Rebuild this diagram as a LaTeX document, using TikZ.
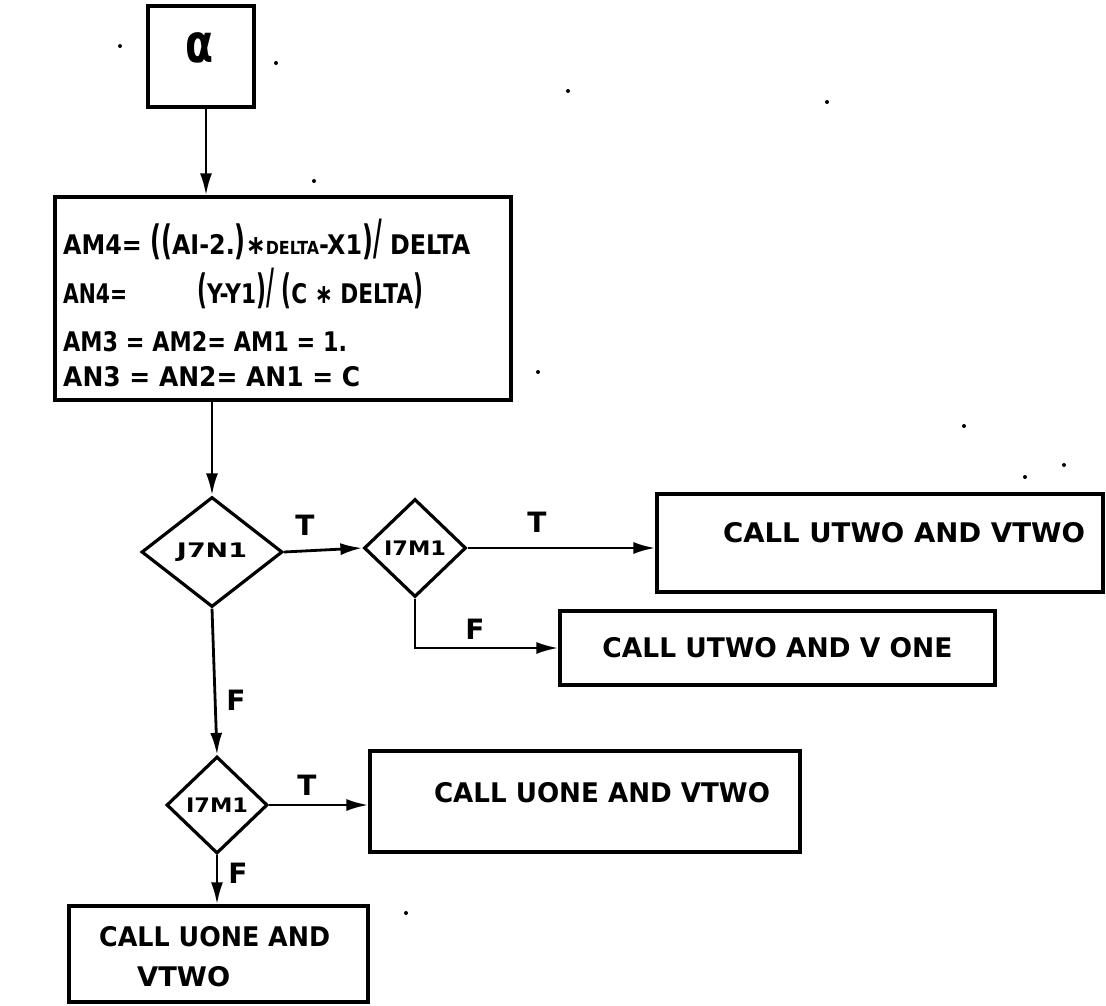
\documentclass[tikz,border=0pt]{standalone}
\usepackage{fontspec}
\setmainfont{DejaVu Sans}
\usetikzlibrary{arrows.meta,shapes.geometric}
% stretch a piece of lettering to a given width, keeping its height
\newcommand{\handw}[2]{\resizebox{#1}{\height}{#2}}
% taller parentheses and slashes for the formulas
\newcommand{\tallp}[2][1.5]{\scalebox{1}[#1]{#2}}
\begin{document}
\begin{tikzpicture}[x=1pt,y=-1pt,
  every node/.style={font=\fontsize{27}{30}\selectfont\bfseries, inner sep=0pt},
  pbox/.style={draw, rectangle, line width=3.2pt},
  test/.style={draw, diamond, line width=3.2pt, aspect=1, font=\fontsize{20}{22}\selectfont\bfseries},
  flow/.style={line width=2.8pt, -{Latex[length=22pt,width=12pt]}},
  lbl/.style={font=\fontsize{28}{30}\selectfont\bfseries},
  speck/.style={fill=black, draw=none, circle, minimum size=4pt}
]
\useasboundingbox (0,0) rectangle (1106,1006);

% entry connector
\node[pbox, minimum width=106pt, minimum height=101pt] (alpha) at (201,56.5) {};
\node (alphasym) at (199,48) {\resizebox{28pt}{30pt}{α}};

% assignment block
\node[pbox, minimum width=456pt, minimum height=203pt] (form) at (283,298.5) {};
\node[anchor=base west] (f1) at (63,254)
  {\handw{407pt}{AM4= \tallp{((}AI-2.\tallp{)}∗{\fontsize{18}{19}\selectfont\bfseries DELTA}-X1\tallp{)}\tallp[1.8]{/} DELTA}};
\node[anchor=base west] (f2a) at (63,303) {\handw{64pt}{AN4=}};
\node[anchor=base west] (f2b) at (197,303)
  {\handw{226pt}{\tallp{(}Y-Y1\tallp{)}\tallp[1.8]{/} \tallp{(}C ∗ DELTA\tallp{)}}};
\node[anchor=base west] (f3) at (63,351) {\handw{284pt}{AM3 = AM2= AM1 = 1.}};
\node[anchor=base west] (f4) at (63,386) {\handw{297pt}{AN3 = AN2= AN1 = C}};

% decisions
\node[test, minimum width=141pt, minimum height=110pt] (j1) at (212,552) {\handw{70pt}{J7N1}};
\node[test, minimum width=102pt, minimum height=98pt] (i1) at (415,548) {\handw{62pt}{I7M1}};
\node[test, minimum width=101pt, minimum height=97pt] (i2) at (217,805) {\handw{62pt}{I7M1}};

% calls
\node[pbox, minimum width=446pt, minimum height=98pt] (box1) at (880,543) {};
\node (box1t) at (904,533) {\handw{362pt}{CALL UTWO AND VTWO}};
\node[pbox, minimum width=435pt, minimum height=74pt] (box2) at (777.5,648) {\handw{350pt}{CALL UTWO AND V ONE}};
\node[pbox, minimum width=430pt, minimum height=101pt] (box3) at (585,801.5) {};
\node (box3t) at (602,793) {\handw{336pt}{CALL UONE AND VTWO}};
\node[pbox, minimum width=299pt, minimum height=96pt] (box4) at (218.5,954) {};
\node[anchor=west] (box4a) at (99,937) {\handw{231pt}{CALL UONE AND}};
\node[anchor=west] (box4b) at (137,977) {\handw{93pt}{VTWO}};

% connectors
\draw[flow] ([xshift=5pt]alpha.south) -- ([xshift=5pt]alpha.south |- form.north);
\draw[flow] (form.south -| j1.north) -- (j1.north);
\draw[flow] (j1.east) -- (i1.west);
\draw[flow] (i1.east) -- (i1.east -| box1.west);
\draw[flow] (i1.south) |- (box2.west);
\draw[flow] (j1.south) -- (i2.north);
\draw[flow] (i2.east) -- (i2.east -| box3.west);
\draw[flow] (i2.south) -- (i2.south |- box4.north);

% branch labels
\node[lbl] (t1) at (305,525) {T};
\node[lbl] (t2) at (537,522) {T};
\node[lbl] (f1lbl) at (475,629) {F};
\node[lbl] (f2lbl) at (236,700) {F};
\node[lbl] (t3) at (307,785) {T};
\node[lbl] (f3lbl) at (238,873) {F};

% specks on the sheet
\foreach \p [count=\k] in {(120,46),(276,63),(568,91),(827,102),(314,181),(538,372),(964,426),(1025,477),(1064,465),(406,913)}
  \node[speck] (speck\k) at \p {};
\end{tikzpicture}
\end{document}
